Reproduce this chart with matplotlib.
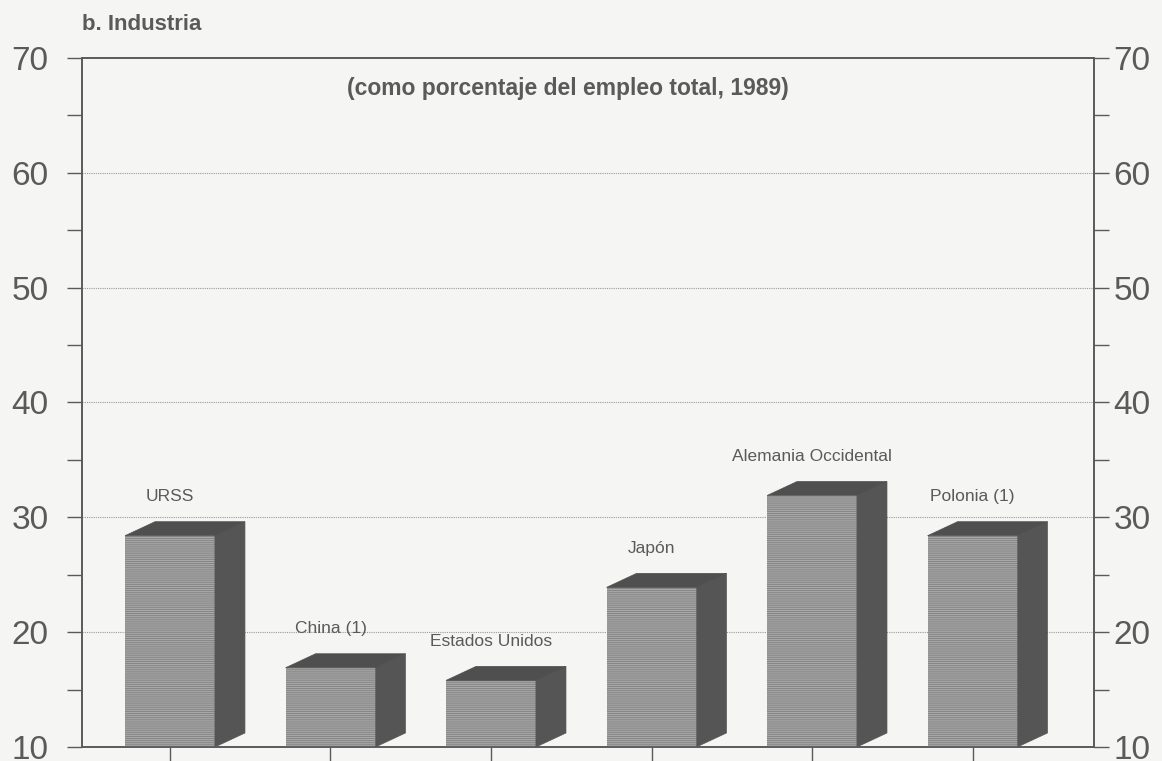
import matplotlib.pyplot as plt
from matplotlib.patches import Polygon

# data
paises = ['URSS', 'China (1)', 'Estados Unidos', 'Japón', 'Alemania Occidental', 'Polonia (1)']
empleo = [28.4, 16.9, 15.8, 23.9, 31.9, 28.4]
yticks = [10, 20, 30, 40, 50, 60, 70]

gris = '#5a5a5a'
fondo = '#f5f5f3'
plt.rcParams['font.family'] = ['Liberation Sans', 'DejaVu Sans']
plt.rcParams['hatch.linewidth'] = 0.7

fig = plt.figure(figsize=(11.62, 7.61), dpi=100, facecolor=fondo)
ax = fig.add_axes([0.0706, 0.0184, 0.8709, 0.9054], facecolor=fondo)

base = 10
w = 0.56
dx = 0.187
dy = 1.22

for i, v in enumerate(empleo):
    x0 = i - w / 2
    x1 = i + w / 2
    # cara frontal
    ax.bar(i, v - base, bottom=base, width=w, color='#a8a8a8', hatch='--------',
           edgecolor='#858585', linewidth=0, zorder=3)
    # lado derecho
    lado = Polygon([(x1, base), (x1 + dx, base + dy), (x1 + dx, v + dy), (x1, v)],
                   closed=True, facecolor='#555555', edgecolor='#555555', linewidth=0.5, zorder=3)
    ax.add_patch(lado)
    # parte de arriba
    techo = Polygon([(x0, v), (x1, v), (x1 + dx, v + dy), (x0 + dx, v + dy)],
                    closed=True, facecolor='#4f4f4f', edgecolor='#4f4f4f', linewidth=0.5, zorder=3)
    ax.add_patch(techo)
    ax.text(i, v + 3.4, paises[i], ha='center', va='center', fontsize=12.5, color=gris, zorder=4)

ax.set_xlim(-0.548, 5.757)
ax.set_ylim(10, 70)
ax.set_xticks(range(len(paises)))
ax.set_xticklabels([])
etiquetas = [str(t) if t in yticks else '' for t in range(10, 71, 5)]
ax.set_yticks(range(10, 71, 5))
ax.set_yticklabels(etiquetas)

for t in yticks[1:-1]:
    ax.axhline(t, color='#9a9a9a', linestyle=(0, (1, 1)), linewidth=0.8, zorder=1)

ax.tick_params(axis='y', direction='out', length=11, width=1, color=gris,
               labelsize=24, labelcolor=gris, pad=13)
ax.tick_params(axis='x', direction='out', length=11, width=1, color=gris)

ax2 = ax.twinx()
ax2.set_ylim(10, 70)
ax2.set_yticks(range(10, 71, 5))
ax2.set_yticklabels(etiquetas)
ax2.tick_params(axis='y', direction='out', length=11, width=1, color=gris,
                labelsize=24, labelcolor=gris, pad=3)

for a in (ax, ax2):
    for s in a.spines.values():
        s.set_color(gris)
        s.set_linewidth(1.2)

fig.text(0.0706, 0.968, 'b. Industria', fontsize=16, fontweight='bold', color=gris, va='center')
ax.text(0.48, 0.955, '(como porcentaje del empleo total, 1989)', transform=ax.transAxes,
        ha='center', va='center', fontsize=16.5, fontweight='bold', color=gris)

fig.savefig('out.png', dpi=100, facecolor=fondo)
